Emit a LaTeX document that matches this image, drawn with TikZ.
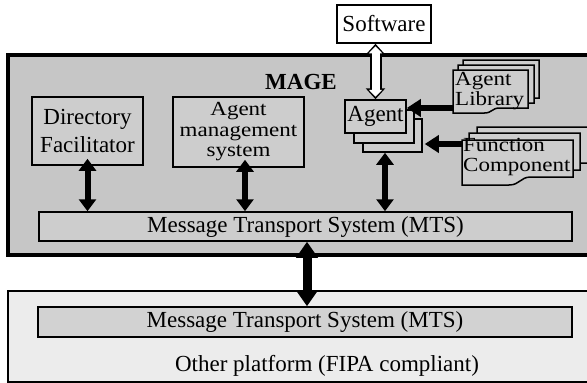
\documentclass[tikz,border=0pt]{standalone}
\usepackage{fontspec}
\setmainfont{Liberation Serif}
\newfontfamily\widefont[FakeStretch=1.15]{Liberation Serif}
\usetikzlibrary{arrows.meta,calc}
\definecolor{magebg}{HTML}{C6C6C6}
\definecolor{boxbg}{HTML}{CDCDCD}
\definecolor{lowbg}{HTML}{ECECEC}
\definecolor{lowmts}{HTML}{D2D2D2}
\begin{document}
\begin{tikzpicture}[x=1pt,y=-1pt,
  txt/.style={font=\fontsize{23}{23}\selectfont},
  box/.style={draw=black, line width=1.5pt, fill=boxbg, inner sep=0pt, align=center, txt},
  doc/.style={draw=black, line width=1.5pt, fill=boxbg},
  blkD/.style={line width=6pt, {Triangle[length=12pt,width=17pt]}-{Triangle[length=12pt,width=17pt]}},
  bigD/.style={line width=9pt, {Triangle[length=16pt,width=21pt]}-{Triangle[length=16pt,width=21pt]}},
  blkL/.style={line width=6pt, -{Triangle[length=14pt,width=17pt]}},
  hollowOut/.style={line width=12pt, black, {Triangle[length=11pt,width=19pt]}-{Triangle[length=11pt,width=19pt]}},
  hollowIn/.style={line width=8pt, white, {Triangle[length=7pt,width=13pt]}-{Triangle[length=7pt,width=13pt]}, shorten <=2.5pt, shorten >=2.5pt}
]
\useasboundingbox (0,0) rectangle (587,383);
\fill[white] (0,0) rectangle (587,383);

% MAGE platform
\draw[line width=4pt, fill=magebg] (8,55) rectangle (596,255);
\node[txt, font=\fontsize{23}{23}\selectfont\bfseries] (mage) at (301,82) {MAGE};

% Software
\node[box, fill=white, minimum width=94pt, minimum height=38pt] (sw) at (384,24) {Software};

% Directory Facilitator and AMS
\node[box, minimum width=111pt, minimum height=68pt, font=\fontsize{23}{28}\selectfont] (df) at (87.5,131) {Directory\\Facilitator};
\node[box, minimum width=131pt, minimum height=70pt, font=\widefont\fontsize{20}{20.5}\selectfont] (ams) at (238.5,132) {Agent\\management\\system};

% Agent stack
\node[box, minimum width=59pt, minimum height=33pt] (ag3) at (392.5,135.5) {};
\node[box, minimum width=60pt, minimum height=33pt] (ag2) at (384,126.5) {};
\node[box, minimum width=61pt, minimum height=33pt] (ag) at (375.5,116.5) {Agent};

% Agent Library documents
\draw[doc] (463,60) -- (539,60) -- (539,98) -- (510,98) .. controls (502,98) and (502,103) .. (495,103) -- (463,103) -- cycle;
\draw[doc] (458,65) -- (534,65) -- (534,103) -- (505,103) .. controls (497,103) and (497,108) .. (490,108) -- (458,108) -- cycle;
\draw[doc] (453,70) -- (528,70) -- (528,108) -- (499.5,108) .. controls (492,108) and (492,113) .. (484.5,113) -- (453,113) -- cycle;
\node[font=\widefont\fontsize{20}{20}\selectfont, align=left, anchor=west, inner sep=0pt] (lib) at (455,91) {Agent\\Library};

% Function Component documents
\draw[doc] (477,127) -- (592,127) -- (592,163) -- (546,163) .. controls (535,163) and (535,171) .. (524,171) -- (477,171) -- cycle;
\draw[doc] (469,133) -- (580,133) -- (580,170) -- (538,170) .. controls (527,170) and (527,178) .. (516,178) -- (469,178) -- cycle;
\draw[doc] (462,140) -- (573,140) -- (573,177) -- (531,177) .. controls (520,177) and (520,185) .. (509,185) -- (462,185) -- cycle;
\node[font=\widefont\fontsize{20}{20}\selectfont, align=left, anchor=west, inner sep=0pt] (fc) at (463,157) {Function\\Component};

% MTS
\node[box, minimum width=533pt, minimum height=29pt] (mts) at (305.5,226.5) {Message Transport System (MTS)};

% Other platform
\draw[line width=1.2pt, fill=lowbg] (8,291) rectangle (600,382);
\node[box, fill=lowmts, minimum width=534pt, minimum height=30pt] (mts2) at (305,322) {Message Transport System (MTS)};
\node[txt] (other) at (327,366) {Other platform (FIPA compliant)};

% connectors
\coordinate (swA) at (ag.north |- sw.south);
\draw[hollowOut] (swA) -- (ag.north);
\draw[hollowIn] (swA) -- (ag.north);

\coordinate (dfA) at ($(df.south)+(0,-7)$);
\draw[blkD] (dfA) -- (dfA |- mts.north);
\coordinate (amsA) at ($(ams.south)+(6.5,-8)$);
\draw[blkD] (amsA) -- (amsA |- mts.north);
\coordinate (agA) at ($(ag3.south)+(-7.5,0)$);
\draw[blkD] (agA) -- (agA |- mts.north);

\coordinate (libA) at (453,108);
\draw[blkL] (libA) -- (libA -| ag.east);
\coordinate (fcA) at (462,144);
\draw[blkL] (fcA) -- ($(fcA -| ag3.east)+(2,0)$);

\draw[bigD] ($(mts.south)+(1.5,0)$) -- ($(mts2.north)+(2,0)$);
\end{tikzpicture}
\end{document}
